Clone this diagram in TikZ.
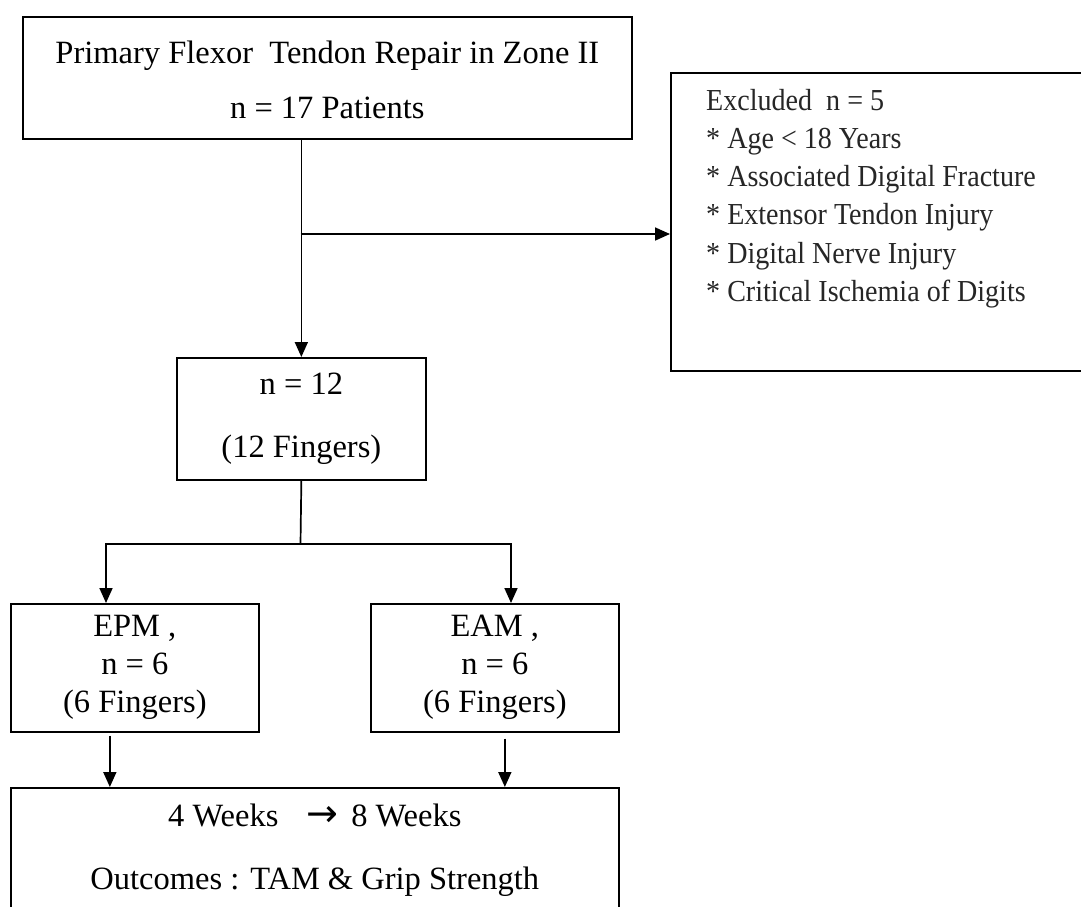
\documentclass[tikz,border=0pt]{standalone}
\usepackage{fontspec}
\setmainfont{Liberation Serif}
\newfontfamily\dejavu{DejaVu Sans}
\newfontfamily\exclfont[FakeStretch=0.92]{Liberation Serif}
\usetikzlibrary{arrows.meta,calc}
\newcommand\tstrut[1]{\rule[-8pt]{0pt}{#1}}
\newcommand\estrut{\rule[-7pt]{0pt}{27pt}}
\tikzset{
  box/.style={draw=black, line width=1.7pt, rectangle, inner sep=0pt, align=center,
    anchor=north west, font=\fontsize{32.5}{38}\selectfont},
  conn/.style={line width=1.7pt, draw=black},
  arr/.style={conn, -{Triangle[length=15pt,width=13pt]}},
  excltext/.style={inner sep=0pt, anchor=north west, align=left, text=black!85,
    font=\exclfont\fontsize{30.5}{38.2}\selectfont}
}
\begin{document}
\begin{tikzpicture}[x=1pt,y=-1pt,line join=miter]
\clip (0,0) rectangle (1081,906);
\fill[white] (0,0) rectangle (1081,906);

\node[box, minimum width=609pt, minimum height=122pt] (top) at (22,16)
  {\tstrut{43pt}Primary Flexor\ \ Tendon Repair in Zone II\\[17pt]\tstrut{29pt}n = 17 Patients};

\node[box, minimum width=450pt, minimum height=298pt] (excl) at (670,72) {};
\node[excltext] (exclt) at (706,89)
  {\estrut Excluded\ \ n = 5\\
   \estrut * Age < 18 Years\\
   \estrut * Associated Digital Fracture\\
   \estrut * Extensor Tendon Injury\\
   \estrut * Digital Nerve Injury\\
   \estrut * Critical Ischemia of Digits};

\node[box, minimum width=249pt, minimum height=122pt] (n12) at (176,357)
  {\tstrut{30pt}n = 12\\[25pt]\tstrut{30pt}(12 Fingers)};

\node[box, minimum width=248pt, minimum height=128pt] (epm) at (10,603)
  {\tstrut{30pt}EPM ,\\\tstrut{30pt}n = 6\\\tstrut{30pt}(6 Fingers)};

\node[box, minimum width=248pt, minimum height=128pt] (eam) at (370,603)
  {\tstrut{30pt}EAM ,\\\tstrut{30pt}n = 6\\\tstrut{30pt}(6 Fingers)};

\node[box, minimum width=608pt, minimum height=125pt] (bot) at (10,787)
  {\tstrut{30pt}4 Weeks\hspace{28pt}{\dejavu\fontsize{38}{38}\selectfont →}\hspace{13pt}8 Weeks\\[25pt]\tstrut{30pt}Outcomes : TAM \& Grip Strength};

\coordinate (br) at (300.5,234);
\coordinate (sp) at (300.5,544);
\coordinate (sl) at (106,544);
\coordinate (sr) at (511,544);

\draw[arr] (n12.north |- top.south) -- (n12.north);
\draw[arr] (br) -- (br -| excl.west);
\draw[conn] (n12.south) -- (sp);
\draw[arr] (sp) -- (sl) -- (sl |- epm.north);
\draw[arr] (sp) -- (sr) -- (sr |- eam.north);
\draw[arr] ([xshift=-25pt,yshift=-3pt]epm.south) -- ([xshift=-25pt]epm.south |- bot.north);
\draw[arr] ([xshift=10pt,yshift=-6pt]eam.south) -- ([xshift=10pt]eam.south |- bot.north);
\end{tikzpicture}
\end{document}
